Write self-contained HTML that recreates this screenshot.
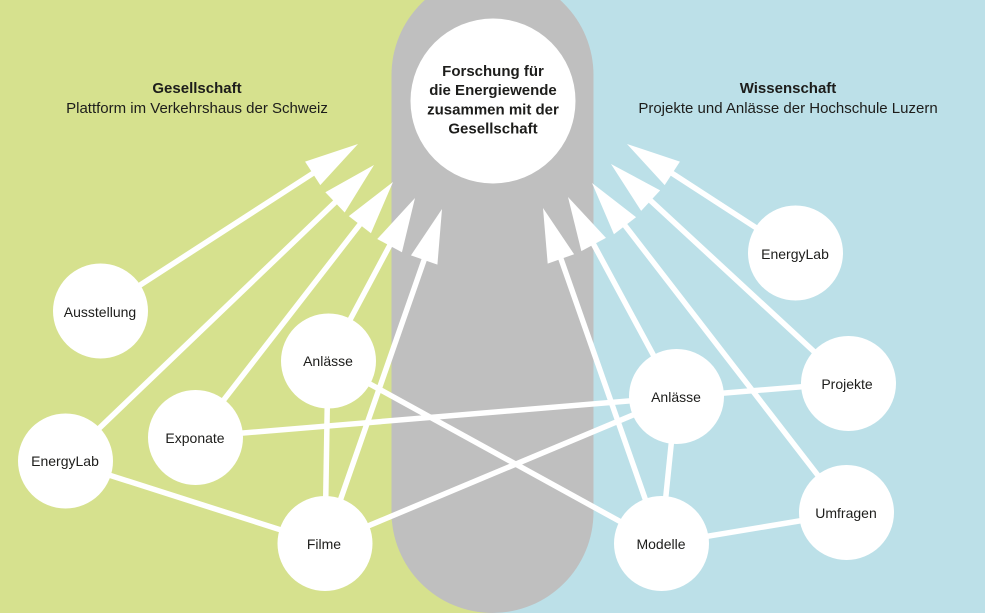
<!DOCTYPE html>
<html><head><meta charset="utf-8"><style>
html,body{margin:0;padding:0;}
body{width:985px;height:613px;overflow:hidden;}
svg{display:block;}
text{font-family:"Liberation Sans",sans-serif;fill:#1d1d1b;}
</style></head><body>
<svg width="985" height="613" viewBox="0 0 985 613" xmlns="http://www.w3.org/2000/svg">
<rect x="0" y="0" width="493" height="613" fill="#d6e18e"/>
<rect x="493" y="0" width="492" height="613" fill="#bce0e8"/>
<rect x="391.5" y="-26" width="202" height="639" rx="101" ry="101" fill="#bfbfbf"/>
<circle cx="493" cy="101" r="82.5" fill="#fff"/>
<g font-weight="bold" font-size="15" text-anchor="middle">
<text x="493" y="76">Forschung für</text>
<text x="493" y="95">die Energiewende</text>
<text x="493" y="114.5">zusammen mit der</text>
<text x="493" y="133.5">Gesellschaft</text>
</g>
<text x="197" y="93" font-size="15" font-weight="bold" text-anchor="middle">Gesellschaft</text>
<text x="197" y="113" font-size="15" text-anchor="middle">Plattform im Verkehrshaus der Schweiz</text>
<text x="788" y="93" font-size="15" font-weight="bold" text-anchor="middle">Wissenschaft</text>
<text x="788" y="113" font-size="15" text-anchor="middle">Projekte und Anlässe der Hochschule Luzern</text>
<g stroke="#fff" stroke-width="5.5" fill="none">
<line x1="65" y1="461" x2="325" y2="544"/>
<line x1="195" y1="437" x2="676" y2="397"/>
<line x1="328" y1="361" x2="325" y2="544"/>
<line x1="328" y1="361" x2="661" y2="544"/>
<line x1="325" y1="544" x2="676" y2="397"/>
<line x1="661" y1="544" x2="676" y2="397"/>
<line x1="661" y1="544" x2="847" y2="513"/>
<line x1="676" y1="397" x2="848" y2="383"/>
<line x1="100" y1="311" x2="315" y2="172"/>
<line x1="65" y1="461" x2="337" y2="200.5"/>
<line x1="195" y1="437" x2="361" y2="223"/>
<line x1="328" y1="361" x2="390.5" y2="244"/>
<line x1="325" y1="544" x2="424.8" y2="258"/>
<line x1="661" y1="544" x2="560.3" y2="257"/>
<line x1="676" y1="397" x2="592.7" y2="242.7"/>
<line x1="847" y1="513" x2="623.8" y2="224"/>
<line x1="848" y1="383" x2="649.2" y2="199.3"/>
<line x1="795" y1="253" x2="670.6" y2="172.3"/>
</g>
<g fill="#fff">
<polygon points="358,144 320.28,185.09 305.06,161.59"/>
<polygon points="374,165 344.69,212.46 325.33,192.24"/>
<polygon points="393,182 370.94,233.25 348.82,216.07"/>
<polygon points="415,198 401.93,252.22 377.23,239.04"/>
<polygon points="442,209 437.41,264.61 410.97,255.37"/>
<polygon points="543,208 574.11,254.31 547.69,263.59"/>
<polygon points="568,197 605.98,237.86 581.34,251.16"/>
<polygon points="592,183 636.1,217.17 613.94,234.29"/>
<polygon points="611,164 660.16,190.37 641.16,210.93"/>
<polygon points="627,144 679.92,161.65 664.68,185.13"/>
</g>
<g fill="#fff">
<circle cx="100.5" cy="311" r="47.5"/>
<circle cx="328.5" cy="361" r="47.5"/>
<circle cx="195.5" cy="437.5" r="47.5"/>
<circle cx="65.5" cy="461" r="47.5"/>
<circle cx="325" cy="543.5" r="47.5"/>
<circle cx="795.5" cy="253" r="47.5"/>
<circle cx="676.5" cy="396.5" r="47.5"/>
<circle cx="848.5" cy="383.5" r="47.5"/>
<circle cx="846.5" cy="512.5" r="47.5"/>
<circle cx="661.5" cy="543.5" r="47.5"/>
</g>
<g font-size="14" text-anchor="middle">
<text x="100" y="317">Ausstellung</text>
<text x="328" y="366">Anlässe</text>
<text x="195" y="443">Exponate</text>
<text x="65" y="466">EnergyLab</text>
<text x="324" y="549">Filme</text>
<text x="795" y="259">EnergyLab</text>
<text x="676" y="402">Anlässe</text>
<text x="847" y="389">Projekte</text>
<text x="846" y="518">Umfragen</text>
<text x="661" y="549">Modelle</text>
</g>
</svg>
</body></html>
